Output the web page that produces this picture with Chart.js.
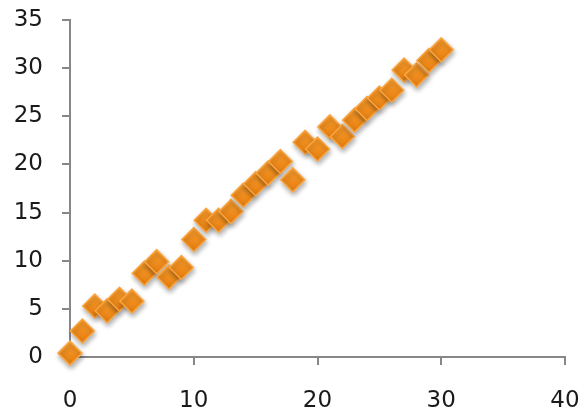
<!DOCTYPE html>
<html>
<head>
<meta charset="utf-8">
<script src="https://cdn.jsdelivr.net/npm/chart.js@4"></script>
<style>
  html, body { margin: 0; padding: 0; background: #fff; }
  #wrap { width: 585px; height: 413px; }
</style>
</head>
<body>
<div id="wrap"><canvas id="scatterChart"></canvas></div>
<script>
// values
const xValues = [0, 1, 2, 3, 4, 5, 6, 7, 8, 9, 10, 11, 12, 13, 14, 15,
  16, 17, 18, 19, 20, 21, 22, 23, 24, 25, 26, 27, 28, 29, 30];
const yValues = [0.4, 2.7, 5.3, 4.8, 6.0, 5.8, 8.7, 9.9, 8.3, 9.3, 12.2, 14.2, 14.2, 15.1, 16.8, 18.0,
  19.1, 20.3, 18.4, 22.3, 21.6, 23.9, 22.9, 24.6, 25.8, 26.9, 27.7, 29.8, 29.3, 30.8, 31.9];
const xTicks = [0, 10, 20, 30, 40];
const yTicks = [0, 5, 10, 15, 20, 25, 30, 35];

const points = xValues.map((x, i) => ({ x: x, y: yValues[i] }));

const axisGray = '#878787';
const markerRadius = 12;

// soft drop shadow under the markers
const shadowPlugin = {
  id: 'markerShadow',
  beforeDatasetsDraw(chart) {
    const c = chart.ctx;
    c.save();
    c.shadowColor = 'rgba(0,0,0,0.3)';
    c.shadowBlur = 5;
    c.shadowOffsetX = 1;
    c.shadowOffsetY = 3;
  },
  afterDatasetsDraw(chart) {
    chart.ctx.restore();
  }
};

// orange fill, lighter on top and darker at the bottom of each marker
function markerFill(context) {
  const chart = context.chart;
  const yScale = chart.scales.y;
  if (!context.parsed || !yScale) return '#F28B16';
  const py = yScale.getPixelForValue(context.parsed.y);
  if (!Number.isFinite(py)) return '#F28B16';
  const g = chart.ctx.createLinearGradient(0, py - markerRadius, 0, py + markerRadius);
  g.addColorStop(0, '#FA9E2E');
  g.addColorStop(1, '#E57D0E');
  return g;
}

const ctx = document.getElementById('scatterChart');
const config = {
  type: 'scatter',
  data: {
    datasets: [{
      label: 'series',
      data: points,
      pointStyle: 'rectRot',
      pointRadius: markerRadius,
      pointHoverRadius: markerRadius,
      backgroundColor: markerFill,
      borderColor: '#FBA540',
      borderWidth: 1.5,
      clip: false
    }]
  },
  options: {
    responsive: true,
    maintainAspectRatio: false,
    animation: false,
    layout: { padding: { top: 20, right: 20, left: 0, bottom: 0 } },
    plugins: {
      legend: { display: false },
      tooltip: { enabled: false }
    },
    scales: {
      x: {
        type: 'linear',
        min: 0,
        max: 40,
        afterBuildTicks: (axis) => { axis.ticks = xTicks.map(v => ({ value: v })); },
        afterFit: (axis) => {
          axis.height = 56;
          axis.paddingLeft = 0;
          axis.paddingRight = 0;
        },
        border: { color: axisGray, width: 2 },
        grid: { drawOnChartArea: false, drawTicks: true, tickLength: 8, color: axisGray, lineWidth: 2 },
        ticks: {
          padding: 22,
          color: '#1a1a1a',
          font: { family: 'DejaVu Sans', size: 23 },
          maxRotation: 0
        }
      },
      y: {
        type: 'linear',
        min: 0,
        max: 35,
        afterBuildTicks: (axis) => { axis.ticks = yTicks.map(v => ({ value: v })); },
        afterFit: (axis) => {
          axis.width = 70;
          axis.paddingTop = 0;
          axis.paddingBottom = 0;
        },
        border: { color: axisGray, width: 2 },
        grid: { drawOnChartArea: false, drawTicks: true, tickLength: 8, color: axisGray, lineWidth: 2 },
        ticks: {
          padding: 19,
          color: '#1a1a1a',
          font: { family: 'DejaVu Sans', size: 23 }
        }
      }
    }
  },
  plugins: [shadowPlugin]
};

const scatterChart = new Chart(ctx, config);
</script>
</body>
</html>
